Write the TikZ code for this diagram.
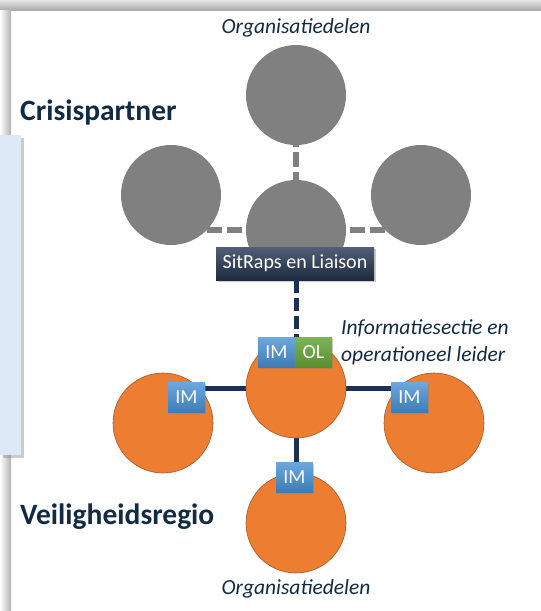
\documentclass[tikz,border=0pt]{standalone}
\usepackage{fontspec}
\setmainfont{Carlito}
\usetikzlibrary{shadows,backgrounds}

\definecolor{labelnavy}{RGB}{18,42,68}
\definecolor{partgray}{RGB}{128,128,128}
\definecolor{regioorange}{RGB}{237,125,49}
\definecolor{linknavy}{RGB}{28,48,85}
\definecolor{imblue}{RGB}{72,146,214}
\definecolor{olgreen}{RGB}{104,168,58}
\definecolor{panelblue}{RGB}{221,233,246}
\definecolor{sitnavy}{RGB}{38,56,84}

\begin{document}
\begin{tikzpicture}[x=1pt,y=-1pt,
		part/.style={circle,minimum size=100pt,inner sep=0pt},
		partner/.style={part,fill=partgray},
		regio/.style={part,fill=regioorange,draw=regioorange!70!black,line width=0.6pt},
		rolebox/.style={minimum width=37pt,minimum height=30pt,inner sep=0pt,text=white,
			font=\fontsize{20}{20}\selectfont,drop shadow={opacity=0.35,shadow xshift=1pt,shadow yshift=-1.5pt}},
		im/.style={rolebox,top color=imblue!80!white,bottom color=imblue!85!black},
		ol/.style={rolebox,top color=olgreen!85!white,bottom color=olgreen!85!black},
		caption/.style={text=labelnavy,font=\fontsize{21.5}{27}\selectfont\itshape},
		title/.style={text=labelnavy,font=\fontsize{29.5}{30}\selectfont\bfseries,anchor=west,inner sep=0pt},
		grayline/.style={partgray,line width=5.5pt,dash pattern=on 15pt off 5pt},
		navyline/.style={linknavy,line width=5pt}]

		\useasboundingbox (0,0) rectangle (541,611);

		% frame shadow
		\shade[top color=gray!20,bottom color=gray!65] (0,0) rectangle (541,10);
		\shade[left color=white,right color=gray!60] (0,10) rectangle (11,611);
		\fill[panelblue,drop shadow={opacity=0.4,shadow xshift=3pt,shadow yshift=-3pt}] (0,135) rectangle (21,455);

		% crisispartner
		\node[partner] (gt) at (296, 95) {};
		\node[partner] (gl) at (171, 195) {};
		\node[partner] (gr) at (421, 195) {};
		\node[partner] (gc) at (296, 230) {};

		% veiligheidsregio
		\node[regio] (oc) at (296, 388) {};
		\node[regio] (ol) at (163, 423) {};
		\node[regio] (or) at (434, 423) {};
		\node[regio] (ob) at (296, 523) {};

		\begin{pgfonlayer}{background}
			\draw[grayline,dash phase=13pt] (gt) -- (gc);
			\draw[grayline,dash phase=4pt] (gl |- gc) -- (gc);
			\draw[grayline,dash phase=4pt] (gr |- gc) -- (gc);
			\draw[navyline] (oc) -- (oc -| ol);
			\draw[navyline] (oc) -- (oc -| or);
			\draw[navyline] (oc) -- (ob);
		\end{pgfonlayer}

		\node[minimum width=158pt,minimum height=33pt,inner sep=0pt,text=white,
			top color=sitnavy!80!white,bottom color=sitnavy!75!black,
			font=\fontsize{20}{20}\selectfont,
			drop shadow={opacity=0.4,shadow xshift=1.5pt,shadow yshift=-2pt}] (sit) at (295, 263.5) {SitRaps en Liaison};

		\node[im] (imc) at (276.5, 352) {IM};
		\node[ol] (olc) at (313.5, 352) {OL};
		\node[im] (iml) at (186.5, 397.5) {IM};
		\node[im] (imr) at (409.5, 397.5) {IM};
		\node[im] (imb) at (294.5, 477) {IM};

		\draw[linknavy,line width=5pt,dash pattern=on 13pt off 5pt] (sit.south -| 296,0) -- (296,337);

		% labels
		\node[caption] (topcap) at (296, 28) {Organisatiedelen};
		\node[caption] (botcap) at (296, 589) {Organisatiedelen};
		\node[caption,anchor=west,align=left,inner sep=0pt] (infocap) at (341, 342) {Informatiesectie en\\operationeel leider};
		\node[title] (crisis) at (20, 112) {Crisispartner};
		\node[title] (regiotitle) at (20, 517) {Veiligheidsregio};

	\end{tikzpicture}
\end{document}
